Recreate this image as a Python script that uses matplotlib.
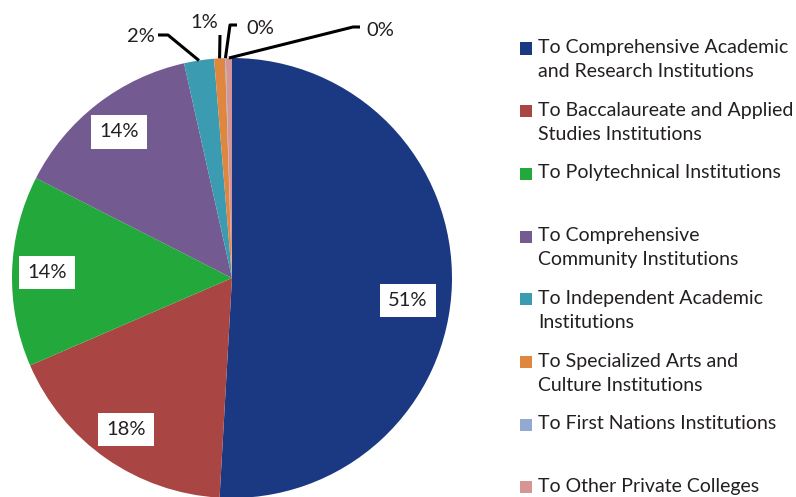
import matplotlib.pyplot as plt
import numpy as np
from matplotlib.patches import Rectangle

plt.rcParams["font.family"] = ["Lato", "DejaVu Sans"]

# Data
categories = [
    "To Comprehensive Academic\nand Research Institutions",
    "To Baccalaureate and Applied\nStudies Institutions",
    "To Polytechnical Institutions",
    "To Comprehensive\nCommunity Institutions",
    "To Independent Academic\nInstitutions",
    "To Specialized Arts and\nCulture Institutions",
    "To First Nations Institutions",
    "To Other Private Colleges",
]
shares = [50.9, 17.6, 14.0, 14.0, 2.2, 0.8, 0.05, 0.45]
pct_labels = ["51%", "18%", "14%", "14%", "2%", "1%", "0%", "0%"]
colors = ["#1b3882", "#a94643", "#22a83b", "#735a90", "#3b9bb1",
          "#df873e", "#93a9d2", "#d59594"]

text_color = "#231f20"

###############################################################################
fig = plt.figure(figsize=(7.96, 4.97), dpi=100)
ax = fig.add_axes([0, 0, 1, 1])

wedges, _ = ax.pie(shares, colors=colors, startangle=90, counterclock=False,
                   radius=1.0, wedgeprops=dict(linewidth=0))


# pixel -> data helpers (pie centre at 232,278 px, radius 220 px)
def px(x):
    return (x - 232) / 220


def py(y):
    return (278 - y) / 220


ax.set_xlim(px(0), px(796))
ax.set_ylim(py(497), py(0))
ax.set_aspect("equal")
ax.axis("off")

# Labels inside the big slices
inside = [0, 1, 2, 3]
nudge = {0: (-0.04, -0.08)}
for i in inside:
    w = wedges[i]
    mid = np.deg2rad((w.theta1 + w.theta2) / 2)
    x, y = 0.84 * np.cos(mid), 0.84 * np.sin(mid)
    dx, dy = nudge.get(i, (0, 0))
    ax.text(x + dx, y + dy, pct_labels[i], ha="center", va="center",
            fontsize=14.5, color=text_color,
            bbox=dict(boxstyle="square,pad=0.4", fc="white", ec="none"))

# Small slices with leader lines: path points (px) and text left/centre (px)
leaders = {
    4: [(200, 62), (168, 35), (158, 35)],
    5: [(220, 60), (220, 35)],
    6: [(225, 60), (230, 25), (237, 25)],
    7: [(238, 60), (353, 27), (360, 27)],
}
text_pos = {4: (127, 36), 5: (190, 22), 6: (246, 28), 7: (366, 30)}
for i, pts in leaders.items():
    w = wedges[i]
    mid = np.deg2rad((w.theta1 + w.theta2) / 2)
    xs = [np.cos(mid)] + [px(p[0]) for p in pts[1:]]
    ys = [np.sin(mid)] + [py(p[1]) for p in pts[1:]]
    ax.plot(xs, ys, color="black", lw=2.2, solid_capstyle="butt")
    tx, ty = text_pos[i]
    ax.text(px(tx), py(ty), pct_labels[i], ha="left", va="center",
            fontsize=14.5, color=text_color)

# Legend drawn by hand
leg_x = 520 / 796
leg_y0 = 1 - 48.5 / 497
step = 62.7 / 497
for i, (label, col) in enumerate(zip(categories, colors)):
    y = leg_y0 - i * step
    fig.add_artist(Rectangle((leg_x, y - 6 / 497), 12 / 796, 12 / 497,
                             transform=fig.transFigure, color=col, lw=0))
    fig.text(leg_x + 18 / 796, y + 9.5 / 497, label, ha="left", va="top",
             fontsize=14, color=text_color, linespacing=1.5)

fig.savefig("out.png", dpi=100)
